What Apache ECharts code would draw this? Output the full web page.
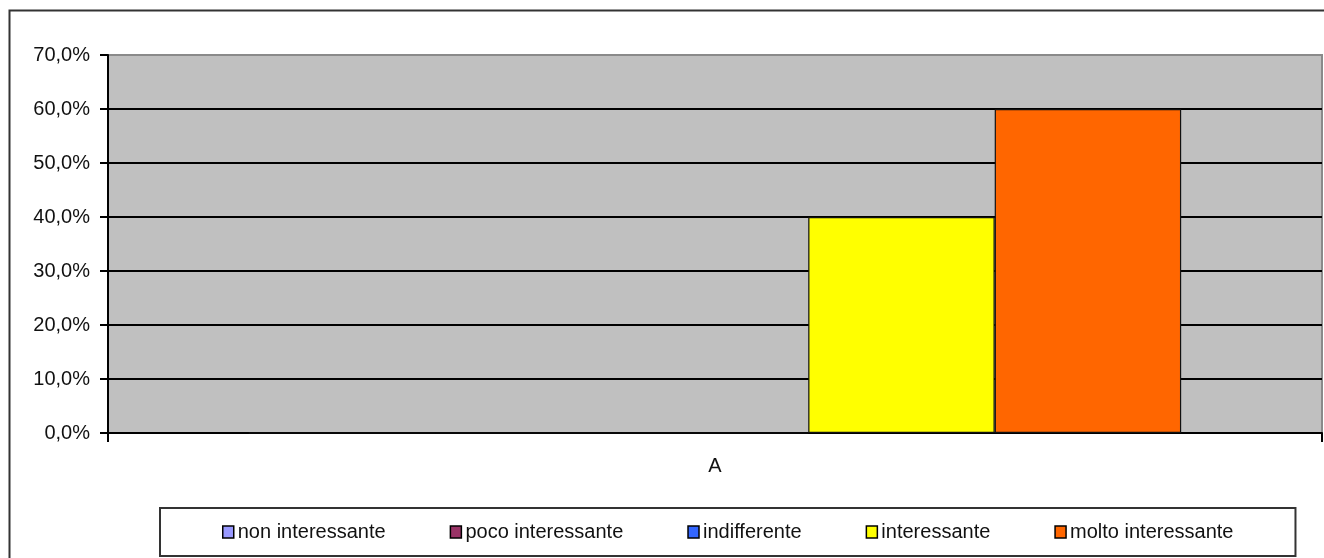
<!DOCTYPE html>
<html>
<head>
<meta charset="utf-8">
<script src="https://cdn.jsdelivr.net/npm/echarts@6/dist/echarts.min.js"></script>
<style>
  html, body { margin: 0; padding: 0; background: #fff; }
  #chart { width: 1324px; height: 558px; }
</style>
</head>
<body>
<div id="chart"></div>
<script>
// Rating categories and their shares (percent) for group A
const categories = ['A'];
const seriesNames = ['non interessante', 'poco interessante', 'indifferente', 'interessante', 'molto interessante'];
const seriesValues = [
  [0],   // non interessante
  [0],   // poco interessante
  [0],   // indifferente
  [40],  // interessante
  [60]   // molto interessante
];
const seriesColors = ['#9999FF', '#993366', '#3366FF', '#FFFF00', '#FF6600'];
const yTicks = { min: 0, max: 70, interval: 10 };

const FONT = "'Liberation Sans', Arial, sans-serif";
const pct = v => v.toFixed(1).replace('.', ',') + '%';

// gridlines are black, the top edge keeps the grey plot-area border colour
const gridLineColors = ['#000', '#000', '#000', '#000', '#000', '#000', '#000', '#8a8a8a'];

const chart = echarts.init(document.getElementById('chart'), null, { renderer: 'canvas' });

chart.setOption({
  backgroundColor: '#ffffff',
  animation: false,
  textStyle: { fontFamily: FONT, color: '#111' },
  graphic: [{
    type: 'rect',
    left: 7, top: 8,
    shape: { width: 1400, height: 700 },
    style: { fill: 'none', stroke: '#333', lineWidth: 2 },
    z: 0
  }],
  grid: {
    left: 108, right: 2, top: 55, bottom: 125,
    show: true,
    backgroundColor: '#C0C0C0',
    borderColor: '#8a8a8a',
    borderWidth: 2
  },
  legend: {
    data: seriesNames,
    left: 160,
    top: 508,
    icon: 'rect',
    itemWidth: 11,
    itemHeight: 12,
    itemGap: 64,
    padding: [14, 62],
    borderColor: '#333',
    borderWidth: 2,
    backgroundColor: '#fff',
    textStyle: { fontFamily: FONT, fontSize: 20, color: '#111', padding: [0, 0, 0, -1] },
    itemStyle: { borderColor: '#000', borderWidth: 1.5 }
  },
  xAxis: {
    type: 'category',
    data: categories,
    axisLine: { show: true, lineStyle: { color: '#000', width: 2 } },
    axisTick: { show: true, length: 9, lineStyle: { color: '#000', width: 2 } },
    axisLabel: { fontFamily: FONT, fontSize: 20, color: '#111', margin: 23 },
    splitLine: { show: false }
  },
  yAxis: {
    type: 'value',
    min: yTicks.min, max: yTicks.max, interval: yTicks.interval,
    axisLine: { show: true, lineStyle: { color: '#000', width: 2 } },
    axisTick: { show: true, length: 8, lineStyle: { color: '#000', width: 2 } },
    axisLabel: { fontFamily: FONT, fontSize: 20, color: '#111', margin: 18, formatter: pct },
    splitLine: { show: true, lineStyle: { color: gridLineColors, width: 2 } }
  },
  series: seriesNames.map((name, i) => ({
    name,
    type: 'bar',
    data: seriesValues[i],
    barGap: '0%',
    barCategoryGap: '23.2%',
    itemStyle: { color: seriesColors[i], borderColor: '#111', borderWidth: 1.2 }
  }))
});
</script>
</body>
</html>
